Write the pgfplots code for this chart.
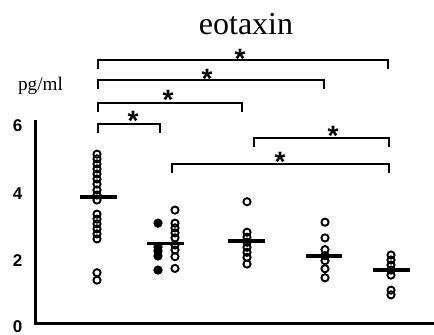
\documentclass[border=0pt]{standalone}
\usepackage{fontspec}
\setmainfont{Liberation Serif}
\newfontfamily\arialf{Liberation Sans}
\usepackage{pgfplots}
\pgfplotsset{compat=1.18}
\begin{document}
\begin{tikzpicture}
\begin{axis}[
  scale only axis, width=217pt, height=167pt,
  xmin=0, xmax=434, ymin=-0.2985, ymax=9.672,
  hide axis, clip=false,
]
% axis lines
\addplot[black, line width=1.5pt] coordinates {(35,6.09) (35,0.03) (434,0.03)};
% tick labels
\node[font=\arialf\bfseries\fontsize{8.5}{9}\selectfont] at (axis cs:17.5,5.93) {6};
\node[font=\arialf\bfseries\fontsize{8.5}{9}\selectfont] at (axis cs:17.5,3.90) {4};
\node[font=\arialf\bfseries\fontsize{8.5}{9}\selectfont] at (axis cs:17.5,1.90) {2};
\node[font=\arialf\bfseries\fontsize{8.5}{9}\selectfont] at (axis cs:17.5,-0.09) {0};
% unit and title
\node[anchor=base, font=\fontsize{9.6}{10}\selectfont] at (axis cs:40.5,6.96) {pg/ml};
\node[anchor=base, font=\fontsize{16}{17}\selectfont] at (axis cs:246,8.64) {eotaxin};
\pgfplotsset{openmk/.style={only marks, mark=o, mark size=1.8pt, mark options={line width=0.95pt}}}
% data: column 1
\addplot[openmk] coordinates {
 (97,5.07) (97,4.93) (97,4.78) (97,4.63) (97,4.48) (97,4.33) (97,4.18) (97,4.00) (97,3.85) (97,3.70)
 (97,3.28) (97,3.13) (97,2.99) (97,2.84) (97,2.69) (97,2.54) (97,1.53) (97,1.31)};
% column 2 filled
\addplot[only marks, mark=*, mark size=2.1pt, black] coordinates {
 (158,3.01) (158,2.30) (158,2.18) (158,2.03) (158,1.61)};
% column 2 open
\addplot[openmk] coordinates {
 (175,3.40) (175,3.01) (175,2.87) (175,2.72) (175,2.57) (175,2.36) (175,2.21) (175,2.01) (175,1.66)};
% column 3
\addplot[openmk] coordinates {
 (247,3.65) (247,2.74) (247,2.59) (247,2.44) (247,2.29) (247,2.14) (247,1.99) (247,1.79)};
% column 4
\addplot[openmk] coordinates {
 (325,3.04) (325,2.57) (325,2.22) (325,2.04) (325,1.89) (325,1.65) (325,1.38)};
% column 5
\addplot[openmk] coordinates {
 (391,2.06) (391,1.91) (391,1.76) (391,1.61) (391,1.46) (391,1.01) (391,0.87)};
% mean lines
\addplot[black, line width=1.7pt] coordinates {(80,3.79) (117,3.79)};
\addplot[black, line width=1.7pt] coordinates {(147,2.41) (184,2.41)};
\addplot[black, line width=1.7pt] coordinates {(228,2.48) (265,2.48)};
\addplot[black, line width=1.7pt] coordinates {(306,2.03) (342,2.03)};
\addplot[black, line width=1.7pt] coordinates {(373,1.61) (410,1.61)};
% significance brackets
\addplot[black, line width=1pt] coordinates {(98,7.62) (98,7.88) (388,7.88) (388,7.62)};
\addplot[black, line width=1pt] coordinates {(98,7.02) (98,7.28) (324,7.28) (324,7.02)};
\addplot[black, line width=1pt] coordinates {(98,6.34) (98,6.60) (242,6.60) (242,6.34)};
\addplot[black, line width=1pt] coordinates {(98,5.71) (98,5.97) (160,5.97) (160,5.71)};
\addplot[black, line width=1pt] coordinates {(254,5.29) (254,5.55) (389,5.55) (389,5.29)};
\addplot[black, line width=1pt] coordinates {(172,4.52) (172,4.78) (389,4.78) (389,4.52)};
% stars
\tikzset{star/.style={anchor=base, font=\arialf\bfseries\fontsize{14}{14}\selectfont}}
\node[star] at (axis cs:240,7.64) {*};
\node[star] at (axis cs:207,7.04) {*};
\node[star] at (axis cs:168,6.39) {*};
\node[star] at (axis cs:133,5.79) {*};
\node[star] at (axis cs:333,5.34) {*};
\node[star] at (axis cs:280,4.54) {*};
\end{axis}
\pgfresetboundingbox
\useasboundingbox (0,0) rectangle (217pt,167pt);
\end{tikzpicture}
\end{document}
